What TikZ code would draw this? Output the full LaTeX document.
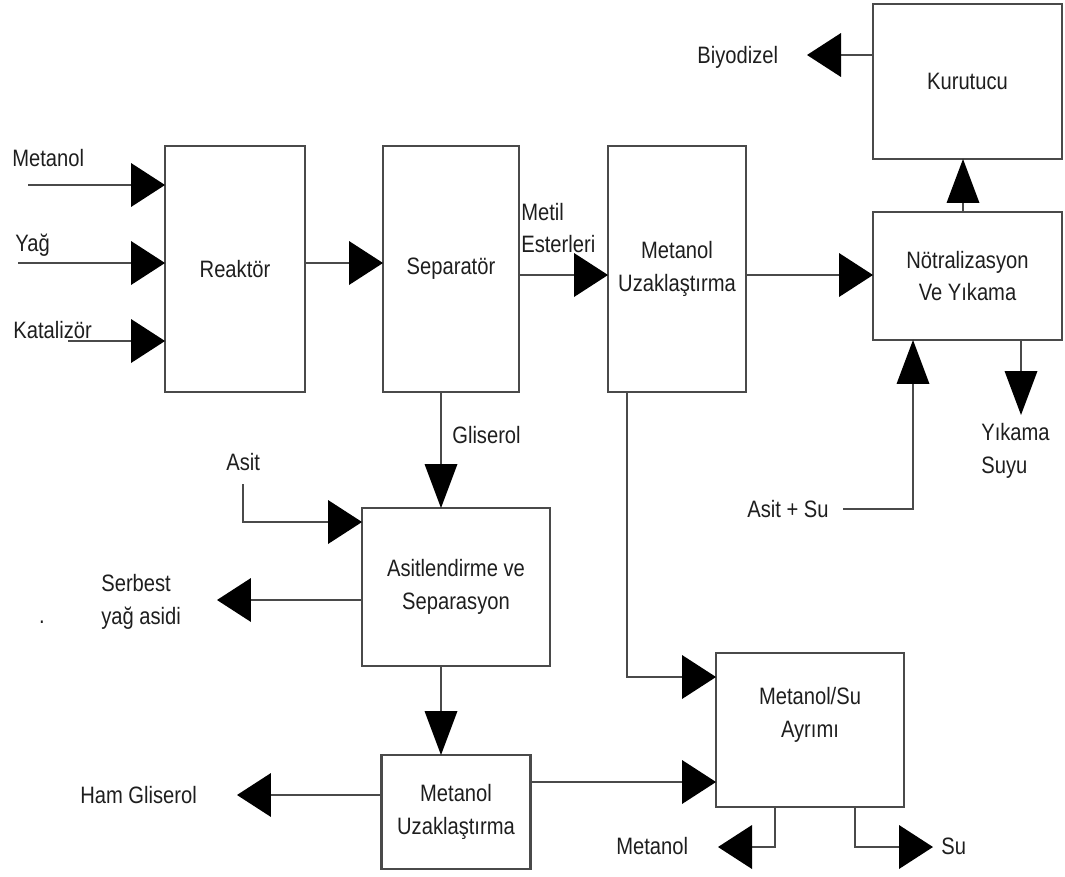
\documentclass[tikz,border=0pt]{standalone}
\usepackage{fontspec}
\setmainfont{Liberation Sans}[FakeStretch=0.85]
\usetikzlibrary{arrows.meta}
\definecolor{ln}{HTML}{4A4A4A}
\definecolor{tx}{HTML}{1E1E1E}
\begin{document}
\begin{tikzpicture}[x=0.02cm, y=-0.02cm,
  box/.style={draw=ln, line width=1.3pt, inner sep=0pt, outer sep=0pt, align=center, text=tx,
    font=\fontsize{13.5}{18.5}\selectfont},
  lbl/.style={inner sep=0pt, text=tx, align=left, font=\fontsize{13.5}{18.5}\selectfont},
  conn/.style={draw=ln, line width=1.3pt},
  harrow/.style={conn, -{Triangle[length=0.68cm, width=0.88cm, black, line width=0pt]}},
  varrow/.style={conn, -{Triangle[length=0.88cm, width=0.66cm, black, line width=0pt]}}
]
\useasboundingbox (0,0) rectangle (1065,876);

% boxes
\node[box, minimum width=2.8cm, minimum height=4.92cm] (reak) at (235,269) {Reaktör};
\node[box, minimum width=2.72cm, minimum height=4.92cm] (sep) at (451,269) {Separatör};
\node[box, minimum width=2.76cm, minimum height=4.92cm] (muz) at (677,269) {Metanol\\Uzaklaştırma};
\node[box, minimum width=3.78cm, minimum height=3.1cm] (kur) at (967.5,81.5) {Kurutucu};
\node[box, minimum width=3.78cm, minimum height=2.56cm] (not) at (967.5,276) {Nötralizasyon\\Ve Yıkama};
\node[box, minimum width=3.76cm, minimum height=3.16cm] (asit) at (456,587) {Asitlendirme ve\\Separasyon};
\node[box, minimum width=3.76cm, minimum height=3.08cm] (msu) at (810,730) {};
\node[lbl, align=center] (msutext) at (810,715) {Metanol/Su\\Ayrımı};
\node[box, minimum width=2.98cm, minimum height=2.28cm] (muz2) at (456,812) {Metanol\\Uzaklaştırma};

% labels
\node[lbl, anchor=west] (tMetanol) at (12,158) {Metanol};
\node[lbl, anchor=west] (tYag) at (15,245) {Yağ};
\node[lbl, anchor=west] (tKat) at (13,330) {Katalizör};
\node[lbl, anchor=west] (tMetil) at (521,228) {Metil\\Esterleri};
\node[lbl, anchor=west] (tBiyo) at (697,57) {Biyodizel};
\node[lbl, anchor=west] (tYik) at (981,451) {Yıkama\\Suyu};
\node[lbl, anchor=west] (tAsitSu) at (747,509) {Asit + Su};
\node[lbl, anchor=west] (tGlis) at (452,435) {Gliserol};
\node[lbl, anchor=west] (tAsit) at (226,462) {Asit};
\node[lbl, anchor=west] (tSerb) at (101,602) {Serbest\\yağ asidi};
\node[lbl] (tDot) at (42,622) {.};
\node[lbl, anchor=west] (tHam) at (80,795) {Ham Gliserol};
\node[lbl, anchor=west] (tMet2) at (616,846) {Metanol};
\node[lbl, anchor=west] (tSu) at (941,846) {Su};

% free ends
\coordinate (cMet) at (28,185);
\coordinate (cYag) at (18,263);
\coordinate (cKat) at (68,341);
\coordinate (cBiyo) at (807,55);
\coordinate (cYik) at (1021,415);
\coordinate (cAsitSu) at (843,509);
\coordinate (cAsit) at (243,484);
\coordinate (cSerb) at (217,600);
\coordinate (cHam) at (237,795);
\coordinate (cMet2) at (718,847);
\coordinate (cSu) at (933,847);

% connectors
\draw[harrow] (cMet) -- (reak.west |- cMet);
\draw[harrow] (cYag) -- (reak.west |- cYag);
\draw[harrow] (cKat) -- (reak.west |- cKat);
\draw[harrow] (reak.east |- 0,263) -- (sep.west |- 0,263);
\draw[harrow] (sep.east |- 0,275) -- (muz.west |- 0,275);
\draw[harrow] (muz.east |- 0,275) -- (not.west |- 0,275);
\draw[varrow] (not.north -| 963,0) -- (kur.south -| 963,0);
\draw[harrow] (kur.west |- cBiyo) -- (cBiyo);
\draw[varrow] (not.south -| cYik) -- (cYik);
\draw[varrow] (cAsitSu) -| (not.south -| 913,0);
\draw[varrow] (sep.south -| 441,0) -- (asit.north -| 441,0);
\draw[harrow] (cAsit) |- (asit.west |- 0,522);
\draw[harrow] (asit.west |- cSerb) -- (cSerb);
\draw[varrow] (asit.south -| 441,0) -- (muz2.north -| 441,0);
\draw[harrow] (muz2.west |- cHam) -- (cHam);
\draw[harrow] (muz2.east |- 0,782) -- (msu.west |- 0,782);
\draw[harrow] (muz.south -| 627,0) |- (msu.west |- 0,677);
\draw[harrow] (msu.south -| 775,0) |- (cMet2);
\draw[harrow] (msu.south -| 855,0) |- (cSu);
\end{tikzpicture}
\end{document}
